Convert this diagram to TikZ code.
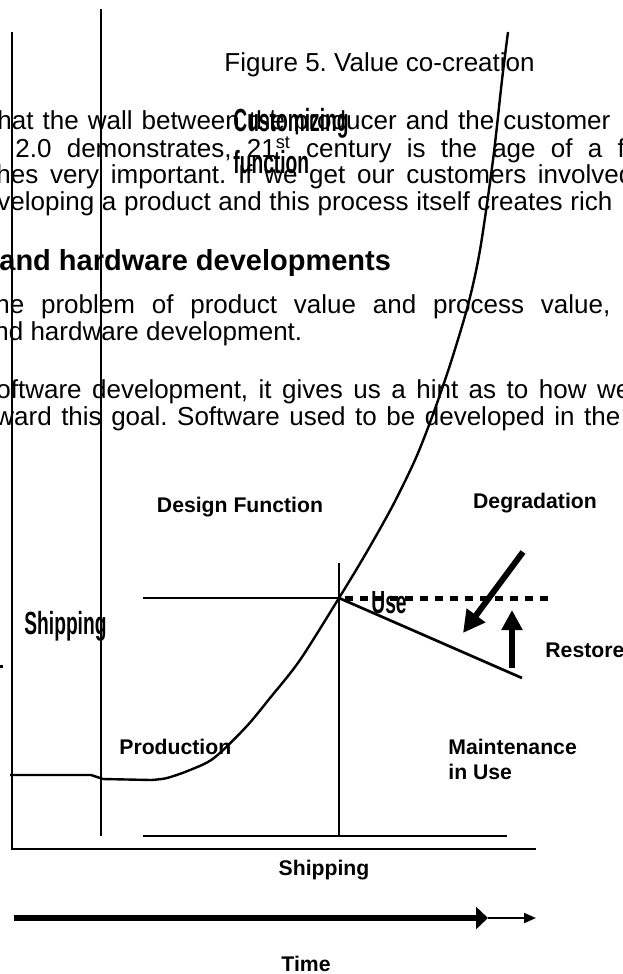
\documentclass[tikz,border=0pt]{standalone}
\usepackage{fontspec}
\setmainfont{Liberation Sans}
\usetikzlibrary{arrows.meta}
\frenchspacing
\definecolor{vcink}{HTML}{000000}
\tikzset{
  ptext/.style={anchor=base west, inner sep=0pt, text=vcink, font=\fontsize{13}{15}\selectfont},
  phead/.style={anchor=base west, inner sep=0pt, text=vcink, font=\fontsize{14.5}{17}\selectfont\bfseries},
  glbl/.style={inner sep=0pt, text=vcink, font=\fontsize{10.6}{12.5}\selectfont\bfseries},
  gnarrow/.style={anchor=base west, inner sep=0pt, text=vcink, font=\fontsize{16}{18}\selectfont\bfseries},
  gline/.style={draw=vcink, line width=1.35pt},
  gcurve/.style={draw=vcink, line width=1.2pt},
  gdots/.style={draw=vcink, line width=2.5pt, dash pattern=on 4pt off 3.5pt},
  gfat/.style={draw=vcink, line width=3pt, -{Triangle[length=10pt, width=10pt]}},
  gthin/.style={draw=vcink, line width=1pt, -{Triangle[length=6pt, width=5pt]}}
}
\newcommand{\narrowtxt}[1]{\scalebox{0.6}[1]{#1}}

\begin{document}
\begin{tikzpicture}[x=0.5pt, y=-0.5pt]
  \useasboundingbox (0,0) rectangle (622,974);
  \clip (0,0) rectangle (622,974);
  % page text behind the figure
  \node[ptext] (cap) at (224,72) {Figure 5. Value co-creation};
  \node[ptext] (t1) at (-3,130) {\makebox[306.5pt][s]{hat the wall between the producer and the customer}};
  \node[ptext] (t2) at (15,157) {\makebox[312pt][s]{2.0 demonstrates, 21\textsuperscript{st} century is the age of a fo}};
  \node[ptext] (t3) at (-4,184) {\makebox[318.5pt][s]{hes very important. If we get our customers involved}};
  \node[ptext] (t4) at (-3,210) {\makebox[307.5pt][s]{veloping a product and this process itself creates rich}};
  \node[phead] (hd) at (-1,270) {and hardware developments};
  \node[ptext] (t5) at (-5,313) {\makebox[307.5pt][s]{he problem of product value and process value,}};
  \node[ptext] (t6) at (-6,340) {nd hardware development.};
  \node[ptext] (t7) at (-4,398) {\makebox[317pt][s]{oftware development, it gives us a hint as to how we}};
  \node[ptext] (t8) at (-5,425) {\makebox[312.5pt][s]{ward this goal. Software used to be developed in the}};
  \fill[vcink] (0,665) rectangle (3,668);

  % frame
  \coordinate (fl1) at (12,32);  \coordinate (fl2) at (12,849);
  \coordinate (fr1) at (101,9);  \coordinate (fr2) at (101,836);
  \coordinate (ax) at (536,849);
  \path[gline] (fl1) -- (fl2) -- (ax);
  \path[gline] (fr1) -- (fr2);
  % shipping base and use stem
  \coordinate (b1) at (143,836); \coordinate (b2) at (507,836);
  \coordinate (us) at (339,598); \coordinate (ut) at (339,563); \coordinate (ub) at (339,836);
  \coordinate (d1) at (143,598);
  \path[gline] (b1) -- (b2);
  \path[gline] (ut) -- (ub);
  \path[gline] (d1) -- (us);
  % value curve
  \path[gcurve] (10,775) -- (91,775) -- (103,779) -- (151,780);
  \path[gcurve] plot[smooth] coordinates {(151,780) (167,778) (190,770) (214,758) (246,727) (270,698)
    (300,660) (339,598) (365,555) (392,507) (415,460) (432,417) (450,365) (468,305) (480,250)
    (493,160) (502,80) (508,32)};
  % use, degradation, restore
  \coordinate (de) at (522,678); \coordinate (dt) at (548,598);
  \path[gline] (us) -- (de);
  \path[gdots] (345,598) -- (dt);
  \coordinate (g1) at (523,552); \coordinate (g2) at (463,633);
  \path[gfat, -{Triangle[length=11pt, width=11pt]}] (g1) -- (g2);
  \coordinate (r1) at (512,668); \coordinate (r2) at (512,610);
  \path[gfat] (r1) -- (r2);
  % time axis
  \coordinate (tm1) at (14,918); \coordinate (tm2) at (488,918); \coordinate (tm3) at (536,918);
  \path[gfat, -{Triangle[length=6pt, width=11pt]}] (tm1) -- (tm2);
  \path[gthin] (tm2) -- (tm3);

  % labels
  \node[gnarrow] (cust) at (233,132) {\narrowtxt{Customizing}};
  \node[gnarrow] (func) at (233,173) {\narrowtxt{function}};
  \node[glbl] (dsgn) at (240,507) {Design Function};
  \node[glbl] (degr) at (535,503) {Degradation};
  \node[gnarrow] (use) at (371,613) {\narrowtxt{Use}};
  \node[gnarrow] (shpl) at (24,634) {\narrowtxt{Shipping}};
  \node[glbl, anchor=west] (rest) at (545,650) {Restore};
  \node[glbl, anchor=west] (prod) at (119,747) {Production};
  \node[glbl, anchor=west] (mnt) at (448,747) {Maintenance};
  \node[glbl, anchor=west] (inuse) at (448,772) {in Use};
  \node[glbl] (shpb) at (324,870) {Shipping};
  \node[glbl] (time) at (306,964) {Time};
\end{tikzpicture}
\end{document}
